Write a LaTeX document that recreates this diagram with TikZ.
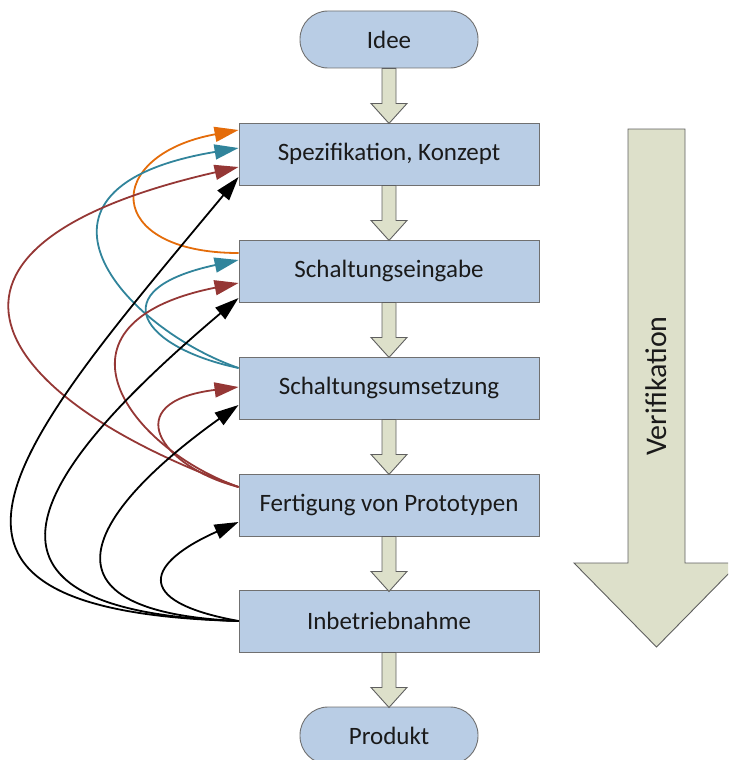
\documentclass[tikz,border=0pt]{standalone}
\usepackage{fontspec}
\setmainfont{Carlito}
\usetikzlibrary{arrows.meta}
\definecolor{boxfill}{HTML}{B9CDE5}
\definecolor{boxline}{HTML}{707070}
\definecolor{arrfill}{HTML}{DDE0CA}
\definecolor{arrline}{HTML}{5F5F5F}
\definecolor{txt}{HTML}{1A1A1A}
\definecolor{corange}{HTML}{E46C0A}
\definecolor{cteal}{HTML}{31849B}
\definecolor{cred}{HTML}{953735}
\begin{document}
\begin{tikzpicture}[x=1pt,y=-1pt,
  box/.style={draw=boxline, fill=boxfill, line width=0.9pt, minimum width=300pt, minimum height=62pt, inner sep=0pt, font=\fontsize{25}{30}\selectfont, text=txt},
  pill/.style={box, minimum width=178pt, minimum height=57pt, rounded corners=28pt},
  blockarr/.style={draw=arrline, fill=arrfill, line width=0.9pt, line join=miter},
  fb/.style={line width=1.8pt, -{Triangle[length=24pt,width=15pt]}},
  smallarrow/.pic={\draw[blockarr] (-7,0) -- (7,0) -- (7,35) -- (18,35) -- (0,55) -- (-18,35) -- (-7,35) -- cycle;}
]
\useasboundingbox (0,0) rectangle (728,760);
\clip (0,0) rectangle (728,760);

% big verification arrow
\draw[blockarr] (628,129) -- (685,129) -- (685,563) -- (739,563) -- (656.5,647) -- (574,563) -- (628,563) -- cycle;
\node[rotate=90, font=\fontsize{30}{36}\selectfont, text=txt] (verif) at (656.5,386) {Verifikation};

% main nodes
\node[pill] (idee) at (389,39.5) {Idee};
\node[box] (spez) at (389,154) {Spezifikation, Konzept};
\node[box] (eing) at (389,271) {Schaltungseingabe};
\node[box] (ums) at (389,388) {Schaltungsumsetzung};
\node[box] (fert) at (389,505) {Fertigung von Prototypen};
\node[box] (inb) at (389,621) {Inbetriebnahme};
\node[pill] (prod) at (389,735.5) {Produkt};

% small block arrows
\path (idee.south) pic {smallarrow};
\path (spez.south) pic {smallarrow};
\path (eing.south) pic {smallarrow};
\path (ums.south) pic {smallarrow};
\path (fert.south) pic {smallarrow};
\path (inb.south) pic {smallarrow};

% feedback arrows
\draw[fb, corange] ([yshift=18pt]eing.west) .. controls +(-136,0) and +(-136,25) .. ([yshift=24pt]spez.west);

\draw[fb, cteal] ([yshift=20pt]ums.west) .. controls +(-115,-40) and +(-240,40) .. ([yshift=6pt]spez.west);
\draw[fb, cteal] ([yshift=20pt]ums.west) .. controls +(-96,-20) and +(-139,30) .. ([yshift=11pt]eing.west);

\draw[fb, cred] ([yshift=18pt]fert.west) .. controls +(-250,-90) and +(-350,80) .. ([yshift=-13pt]spez.west);
\draw[fb, cred] ([yshift=18pt]fert.west) .. controls +(-112,-40) and +(-200,40) .. ([yshift=-12pt]eing.west);
\draw[fb, cred] ([yshift=18pt]fert.west) .. controls +(-78,-20) and +(-122,15) .. ([yshift=1pt]ums.west);

\draw[fb, black] (inb.west) .. controls +(-372,-10) and +(-223,268) .. ([yshift=-23pt]spez.west);
\draw[fb, black] (inb.west) .. controls +(-315,-10) and +(-189,160) .. ([yshift=-27pt]eing.west);
\draw[fb, black] (inb.west) .. controls +(-220,-10) and +(-140,100) .. ([yshift=-17pt]ums.west);
\draw[fb, black] (inb.west) .. controls +(-110,-20) and +(-90,40) .. ([yshift=-17pt]fert.west);
\end{tikzpicture}
\end{document}
